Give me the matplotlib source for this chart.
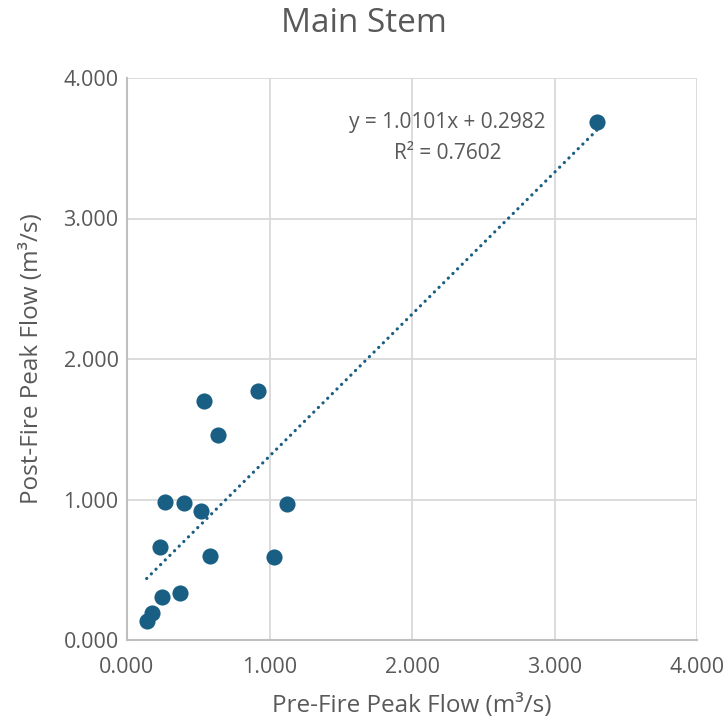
import matplotlib
matplotlib.use("Agg")
import matplotlib.pyplot as plt
import numpy as np

plt.rcParams['font.family'] = ['Open Sans', 'DejaVu Sans']

# Peak flow observations (m^3/s)
pre_fire = [0.921, 0.540, 0.636, 0.267, 0.400, 0.517, 1.123, 0.229,
            0.582, 1.032, 0.372, 0.246, 0.173, 0.138, 3.298]
post_fire = [1.772, 1.701, 1.459, 0.982, 0.973, 0.916, 0.966, 0.660,
             0.600, 0.591, 0.332, 0.304, 0.190, 0.137, 3.687]

# Linear trendline coefficients
slope = 1.0101
intercept = 0.2982
r_squared = 0.7602

ticks = [0, 1, 2, 3, 4]
tick_labels = ["0.000", "1.000", "2.000", "3.000", "4.000"]

text_color = "#595959"
point_color = "#195e83"
grid_color = "#d9d9d9"

fig = plt.figure(figsize=(7.28, 7.23), dpi=100)
ax = fig.add_axes([127 / 728, 1 - 640 / 723, 570 / 728, 562 / 723])

ax.scatter(pre_fire, post_fire, s=135, color=point_color, zorder=3, linewidths=0)

xs = np.array([min(pre_fire), max(pre_fire)])
ax.plot(xs, slope * xs + intercept, linestyle=(0, (0.05, 2.0)), linewidth=2.3,
        color=point_color, dash_capstyle="round", solid_capstyle="round", zorder=2)

ax.text(2.25, 3.68, f"y = {slope:.4f}x + {intercept:.4f}", ha="center", va="center",
        fontsize=15, color=text_color, zorder=4)
ax.text(2.25, 3.46, f"R² = {r_squared:.4f}", ha="center", va="center",
        fontsize=15, color=text_color, zorder=4)

ax.set_xlim(0, 4)
ax.set_ylim(0, 4)
ax.set_xticks(ticks)
ax.set_xticklabels(tick_labels)
ax.set_yticks(ticks)
ax.set_yticklabels(tick_labels)
ax.tick_params(length=0, labelsize=15.5, colors=text_color)
ax.tick_params(axis="x", pad=12)
ax.tick_params(axis="y", pad=6)
ax.grid(True, color=grid_color, linewidth=1.3, zorder=0)
ax.set_axisbelow(True)
for side in ["top", "right"]:
    ax.spines[side].set_visible(False)
for side in ["left", "bottom"]:
    ax.spines[side].set_color("#bfbfbf")
    ax.spines[side].set_linewidth(1.5)

ax.set_xlabel("Pre-Fire Peak Flow (m³/s)", fontsize=17.5, color=text_color, labelpad=12)
ax.set_ylabel("Post-Fire Peak Flow (m³/s)", fontsize=17.5, color=text_color, labelpad=14)
fig.text(364 / 728, 1 - 24 / 723, "Main Stem", ha="center", va="center",
         fontsize=24, color=text_color)

fig.savefig("out.png", dpi=100)
